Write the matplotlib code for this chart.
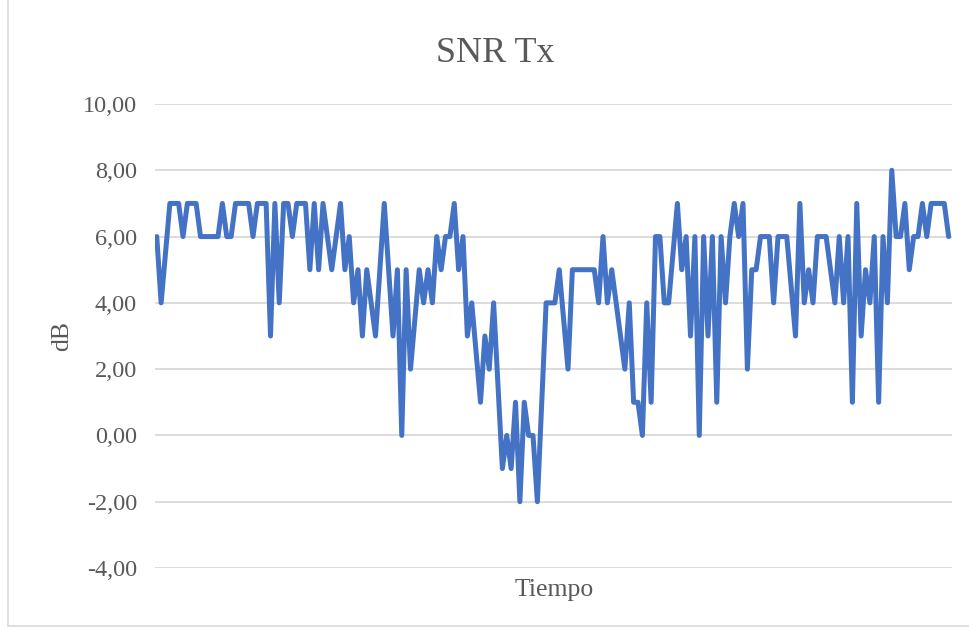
import matplotlib
matplotlib.use("Agg")
import matplotlib.pyplot as plt
from matplotlib.ticker import FuncFormatter, MultipleLocator
from matplotlib.lines import Line2D

# ---- data ----
snr_tx = [
    6, 4, 5.5, 7, 7, 7, 6, 7, 7, 7,
    6, 6, 6, 6, 6, 7, 6, 6, 7, 7,
    7, 7, 6, 7, 7, 7, 3, 7, 4, 7,
    7, 6, 7, 7, 7, 5, 7, 5, 7, 6,
    5, 6, 7, 5, 6, 4, 5, 3, 5, 4,
    3, 5, 7, 5, 3, 5, 0, 5, 2, 3.5,
    5, 4, 5, 4, 6, 5, 6, 6, 7, 5,
    6, 3, 4, 2.5, 1, 3, 2, 4, 1.5, -1,
    0, -1, 1, -2, 1, 0, 0, -2, 1, 4,
    4, 4, 5, 3.5, 2, 5, 5, 5, 5, 5,
    5, 4, 6, 4, 5, 4, 3, 2, 4, 1,
    1, 0, 4, 1, 6, 6, 4, 4, 5.5, 7,
    5, 6, 3, 6, 0, 6, 3, 6, 1, 6,
    4, 6, 7, 6, 7, 2, 5, 5, 6, 6,
    6, 4, 6, 6, 6, 4.5, 3, 7, 4, 5,
    4, 6, 6, 6, 5, 4, 6, 4, 6, 1,
    7, 3, 5, 4, 6, 1, 6, 4, 8, 6,
    6, 7, 5, 6, 6, 7, 6, 7, 7, 7,
    7, 6,
]
time_index = list(range(len(snr_tx)))
y_ticks = [-4, -2, 0, 2, 4, 6, 8, 10]
title_text = "SNR Tx"
x_label = "Tiempo"
y_label = "dB"

# ---- styling ----
text_color = "#595959"
grid_color = "#d9d9d9"
line_color = "#4472C4"
serif = ["Liberation Serif", "DejaVu Serif"]

fig = plt.figure(figsize=(9.7, 6.3), dpi=100)
fig.patch.set_facecolor("white")

W, H = 970.0, 630.0
ax_left, ax_right = 155.0, 951.7
ax_top, ax_bottom = 104.0, 568.0
ax = fig.add_axes([ax_left / W, 1 - ax_bottom / H,
                   (ax_right - ax_left) / W, (ax_bottom - ax_top) / H])

ax.plot(time_index, snr_tx, color=line_color, linewidth=3.6,
        solid_joinstyle="round", solid_capstyle="round", zorder=3)

ax.set_ylim(min(y_ticks), max(y_ticks))
ax.set_xlim(-0.4, len(snr_tx) - 1 + 0.7)
ax.yaxis.set_major_locator(MultipleLocator(2))
ax.yaxis.set_major_formatter(FuncFormatter(lambda v, p: f"{v:.2f}".replace(".", ",")))
ax.set_xticks([])
ax.grid(axis="y", color=grid_color, linewidth=1.3, zorder=0)
ax.set_axisbelow(True)
for s in ax.spines.values():
    s.set_visible(False)
ax.tick_params(axis="y", length=0, pad=13, labelsize=17.5, labelcolor=text_color)
for lab in ax.get_yticklabels():
    lab.set_fontfamily(serif)

fig.text(495 / W, 1 - 53 / H, title_text, ha="center", va="center",
         fontsize=26, color=text_color, family=serif)
fig.text(554 / W, 1 - 590 / H, x_label, ha="center", va="center",
         fontsize=18.5, color=text_color, family=serif)
fig.text(62 / W, 1 - 336 / H, y_label, ha="center", va="center", rotation=90,
         fontsize=18.5, color=text_color, family=serif)

# chart-area border (left and bottom visible in the reference)
fig.add_artist(Line2D([8.5 / W, 8.5 / W], [1 - 626 / H, 1.0],
                      transform=fig.transFigure, color=grid_color, linewidth=1.2))
fig.add_artist(Line2D([8.5 / W, 1.0], [1 - 626 / H, 1 - 626 / H],
                      transform=fig.transFigure, color=grid_color, linewidth=1.2))

fig.savefig("out.png", dpi=100, facecolor="white")
